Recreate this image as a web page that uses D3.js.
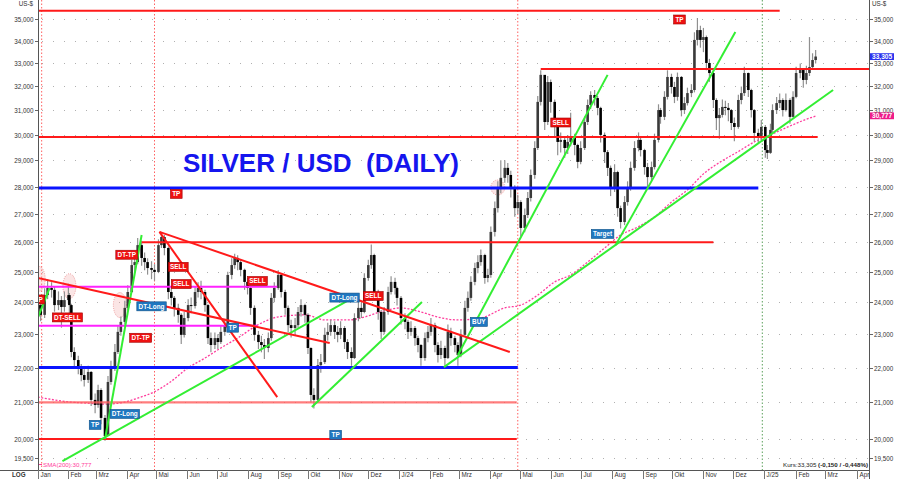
<!DOCTYPE html>
<html><head><meta charset="utf-8">
<script src="https://cdn.jsdelivr.net/npm/d3@7"></script>
<style>
html,body{margin:0;padding:0;background:#fff;}
svg{display:block;font-family:"Liberation Sans",Arial,sans-serif;}
</style></head><body>
<svg id="chart" width="900" height="479"></svg>
<script>
// ---------------- DATA ----------------
const dates = [
"2023-01-02","2023-01-04","2023-01-08","2023-01-11","2023-01-15","2023-01-18","2023-01-22","2023-01-25","2023-01-28","2023-02-01",
"2023-02-02","2023-02-04","2023-02-07","2023-02-11","2023-02-14","2023-02-17","2023-02-21","2023-02-24","2023-02-28","2023-03-03",
"2023-03-06","2023-03-10","2023-03-13","2023-03-16","2023-03-20","2023-03-23","2023-03-26","2023-03-30","2023-04-02","2023-04-06",
"2023-04-09","2023-04-12","2023-04-16","2023-04-19","2023-04-22","2023-04-26","2023-04-29","2023-05-03","2023-05-06","2023-05-09",
"2023-05-13","2023-05-16","2023-05-19","2023-05-23","2023-05-26","2023-05-29","2023-06-02","2023-06-05","2023-06-09","2023-06-12",
"2023-06-15","2023-06-19","2023-06-22","2023-06-25","2023-06-29","2023-07-02","2023-07-05","2023-07-09","2023-07-12","2023-07-16",
"2023-07-19","2023-07-22","2023-07-25","2023-07-29","2023-08-01","2023-08-04","2023-08-08","2023-08-12","2023-08-15","2023-08-18",
"2023-08-22","2023-08-25","2023-08-28","2023-09-01","2023-09-04","2023-09-08","2023-09-11","2023-09-14","2023-09-18","2023-09-21",
"2023-09-24","2023-09-28","2023-10-01","2023-10-04","2023-10-07","2023-10-11","2023-10-14","2023-10-18","2023-10-21","2023-10-24",
"2023-10-28","2023-10-31","2023-11-03","2023-11-07","2023-11-10","2023-11-14","2023-11-17","2023-11-21","2023-11-24","2023-11-27",
"2023-12-01","2023-12-04","2023-12-07","2023-12-11","2023-12-14","2023-12-17","2023-12-21","2023-12-24","2023-12-28","2023-12-30",
"2024-01-03","2024-01-07","2024-01-10","2024-01-13","2024-01-17","2024-01-20","2024-01-23","2024-01-27","2024-01-30","2024-02-02",
"2024-02-06","2024-02-09","2024-02-12","2024-02-16","2024-02-19","2024-02-22","2024-02-26","2024-02-29","2024-03-03","2024-03-07",
"2024-03-10","2024-03-13","2024-03-17","2024-03-20","2024-03-23","2024-03-27","2024-03-30","2024-04-02","2024-04-06","2024-04-09",
"2024-04-12","2024-04-16","2024-04-19","2024-04-22","2024-04-26","2024-04-29","2024-05-02","2024-05-06","2024-05-09","2024-05-12",
"2024-05-16","2024-05-19","2024-05-22","2024-05-26","2024-05-29","2024-06-01","2024-06-05","2024-06-08","2024-06-11","2024-06-15",
"2024-06-18","2024-06-21","2024-06-25","2024-06-28","2024-07-01","2024-07-05","2024-07-08","2024-07-11","2024-07-15","2024-07-18",
"2024-07-21","2024-07-25","2024-07-28","2024-07-31","2024-08-04","2024-08-07","2024-08-10","2024-08-14","2024-08-17","2024-08-20",
"2024-08-24","2024-08-28","2024-08-30","2024-09-03","2024-09-06","2024-09-10","2024-09-13","2024-09-17","2024-09-19","2024-09-23",
"2024-09-26","2024-09-30","2024-10-03","2024-10-06","2024-10-10","2024-10-13","2024-10-16","2024-10-20","2024-10-23","2024-10-26",
"2024-10-29","2024-11-01","2024-11-04","2024-11-07","2024-11-11","2024-11-14","2024-11-17","2024-11-20","2024-11-23","2024-11-26",
"2024-11-29","2024-12-02","2024-12-06","2024-12-09","2024-12-12","2024-12-16","2024-12-19","2024-12-22","2024-12-26","2024-12-29",
"2025-01-02","2025-01-04","2025-01-07","2025-01-09","2025-01-13","2025-01-16","2025-01-19","2025-01-22","2025-01-26","2025-01-29",
"2025-02-01","2025-02-05","2025-02-08","2025-02-11","2025-02-14","2025-02-17","2025-02-20"];
const firstOpen = 23.80;
const closes = [
23.91,23.60,24.23,24.46,24.40,23.91,24.07,23.85,24.07,24.23,
23.91,22.46,22.22,21.99,21.78,21.64,21.87,21.07,20.93,21.35,
20.57,20.08,21.58,21.99,22.46,23.07,23.38,23.82,24.33,25.22,
25.32,25.90,25.46,25.32,25.12,25.06,24.99,25.90,26.18,25.80,
24.33,24.14,23.82,23.60,22.98,23.50,23.91,23.88,24.33,24.46,
24.33,23.91,22.88,22.67,22.88,22.76,23.07,23.28,24.89,25.22,
25.46,25.32,25.06,24.66,24.46,23.82,22.98,22.76,22.67,22.58,
22.88,24.14,24.46,24.89,24.33,23.82,23.28,23.19,23.28,23.69,
23.91,23.60,22.58,21.21,21.07,22.07,22.16,22.98,23.07,23.28,
23.07,22.98,23.19,22.76,22.46,22.28,23.50,23.82,23.69,24.79,
25.22,25.56,24.33,23.69,23.07,23.69,24.33,24.66,24.46,24.14,
23.50,23.38,23.07,23.19,22.88,22.67,22.28,22.88,23.07,23.28,
22.67,22.37,22.58,22.28,23.07,22.88,22.67,22.37,22.98,23.82,
24.14,24.66,25.12,25.32,25.56,24.79,24.89,26.36,27.21,27.95,
28.33,28.71,28.44,27.95,27.21,27.43,26.50,26.96,27.58,28.44,
29.48,31.35,32.50,30.52,32.19,31.35,30.40,29.72,29.80,29.48,
29.72,29.88,29.60,28.94,29.48,30.52,31.22,31.64,31.51,31.10,
30.00,29.32,28.71,27.95,28.55,27.21,26.71,27.43,27.95,28.71,
29.48,29.80,29.40,28.74,28.36,28.74,29.80,31.01,30.73,31.56,
32.41,31.98,31.56,32.41,31.01,31.30,31.72,31.85,34.05,34.50,
34.05,34.18,33.02,32.58,31.43,30.68,30.81,31.14,31.10,31.01,
30.48,30.32,31.43,31.72,32.58,31.85,31.01,30.08,29.92,30.32,
29.40,29.29,30.20,31.01,31.30,31.43,31.01,31.43,30.73,31.56,
32.58,32.71,32.28,32.58,32.84,33.15,33.305];
const highs = [
24.20,24.10,24.45,24.75,24.65,24.50,24.35,24.20,24.35,24.60,
24.30,23.95,22.60,22.35,22.10,21.95,22.05,21.90,21.25,21.50,
21.40,20.65,21.75,22.20,22.70,23.25,23.55,24.05,24.55,25.40,
25.55,26.15,26.05,25.65,25.45,25.35,25.25,26.10,26.36,26.25,
25.85,24.50,24.20,23.95,23.65,23.70,24.10,24.15,24.50,24.65,
24.70,24.40,23.95,23.05,23.05,23.00,23.25,23.45,25.00,25.45,
25.60,25.55,25.40,25.10,24.80,24.50,23.90,23.10,22.95,22.85,
23.05,24.30,24.65,25.05,24.95,24.40,23.90,23.45,23.50,23.85,
24.10,23.95,23.65,22.60,21.40,22.25,22.40,23.20,23.35,23.45,
23.40,23.25,23.40,23.25,22.85,22.60,23.65,24.05,24.00,24.95,
25.40,25.92,25.60,24.40,23.75,23.85,24.50,24.85,24.80,24.50,
24.20,23.65,23.45,23.40,23.25,22.95,22.70,23.05,23.25,23.50,
23.35,22.75,22.80,22.65,23.30,23.20,22.95,22.75,23.15,24.05,
24.35,24.85,25.30,25.55,25.75,25.60,25.10,26.55,27.45,28.20,
29.00,29.00,28.90,28.60,28.05,27.70,27.50,27.20,27.80,28.65,
29.75,31.60,32.70,32.10,32.45,32.30,31.45,30.60,30.10,29.95,
30.00,30.90,30.05,29.65,29.75,30.75,31.45,31.80,31.85,31.60,
31.15,30.10,29.40,28.80,28.85,28.60,27.30,27.65,28.20,28.95,
29.75,30.10,29.90,29.45,28.90,28.95,30.05,31.25,31.10,31.80,
32.70,32.55,32.20,32.60,32.45,31.55,31.95,32.10,34.40,35.06,
34.70,34.60,34.25,33.20,32.70,31.50,31.10,31.45,31.40,31.30,
31.05,30.70,31.65,32.00,32.85,32.60,31.90,31.05,30.25,30.60,
30.40,29.60,30.45,31.25,31.55,31.70,31.50,31.70,31.50,31.80,
32.85,33.00,32.80,32.90,34.18,33.45,33.60];
const lows = [
23.55,23.40,23.50,24.10,24.15,23.70,23.75,23.20,23.70,23.95,
23.60,22.30,22.00,21.80,21.60,21.45,21.55,20.90,20.70,20.85,
20.40,19.95,20.10,21.50,21.90,22.40,22.95,23.30,23.75,24.30,
24.95,25.25,25.20,25.05,24.90,24.75,24.70,24.95,25.80,25.55,
24.10,23.90,23.55,23.35,22.70,22.90,23.40,23.65,23.80,24.15,
24.10,23.70,22.70,22.45,22.55,22.55,22.70,22.95,23.20,24.75,
25.10,25.05,24.85,24.40,24.25,23.60,22.80,22.55,22.45,22.25,
22.45,22.80,24.00,24.40,24.15,23.60,23.05,22.90,23.00,23.20,
23.55,23.35,22.40,21.00,20.83,21.00,21.85,22.10,22.80,22.95,
22.85,22.75,22.85,22.55,22.25,22.05,22.25,23.40,23.50,23.65,
24.70,25.10,24.10,23.45,22.85,23.00,23.60,24.25,24.25,23.90,
23.30,23.15,22.85,22.95,22.65,22.45,22.05,22.20,22.75,22.95,
22.45,22.15,22.25,22.05,22.25,22.65,22.45,22.05,22.30,22.95,
23.70,24.05,24.55,24.95,25.20,24.60,24.65,24.80,26.20,27.05,
27.75,28.15,28.15,27.60,26.90,27.00,26.20,26.35,26.85,27.45,
28.30,29.40,31.20,30.20,30.40,30.90,29.90,29.20,29.30,29.10,
29.25,29.55,29.20,28.70,28.85,29.40,30.40,31.05,31.20,30.80,
29.70,28.90,28.40,27.65,27.80,26.90,26.48,26.60,27.30,27.85,
28.60,29.35,29.15,28.45,28.00,28.20,28.65,29.70,30.45,30.60,
31.45,31.70,31.30,31.40,30.75,30.85,31.20,31.55,31.75,33.80,
33.70,33.50,32.70,32.20,31.10,30.20,29.85,30.70,30.80,30.55,
30.20,29.75,30.25,31.25,31.60,31.55,30.70,29.75,29.65,29.80,
29.10,29.05,29.25,30.10,30.85,31.10,30.75,30.95,30.45,30.70,
31.50,32.35,31.95,32.10,32.45,32.75,33.00];

// SMA(200)
const smaDates = ["2023-01-01","2023-01-18","2023-02-03","2023-02-20","2023-03-10","2023-03-30","2023-04-12","2023-04-29","2023-05-15","2023-06-02",
"2023-06-19","2023-07-05","2023-07-22","2023-08-11","2023-08-31","2023-09-28","2023-10-18","2023-11-10","2023-11-27","2023-12-13",
"2024-01-03","2024-01-23","2024-02-09","2024-02-29","2024-03-23","2024-04-16","2024-05-02","2024-05-19","2024-06-05","2024-06-21",
"2024-07-08","2024-07-25","2024-08-10","2024-08-27","2024-09-13","2024-09-29","2024-10-16","2024-11-02","2024-11-18","2024-12-05",
"2024-12-22","2025-01-07","2025-01-24","2025-02-09","2025-02-21"];
const smaValues = [21.15,21.07,21.01,20.98,20.95,21.01,21.12,21.30,21.58,21.99,
22.28,22.58,22.88,23.28,23.53,23.60,23.44,23.44,23.53,23.69,
23.82,23.69,23.53,23.44,23.50,23.82,23.91,24.23,24.66,24.89,
25.32,25.80,26.25,26.53,26.89,27.40,27.88,28.51,28.94,29.32,
29.72,30.00,30.32,30.60,30.777];

const yTicks = [19.5,20,21,22,23,24,25,26,27,28,29,30,31,32,33,34,35];
const monthNames = ["Jan","Feb","Mrz","Apr","Mai","Jun","Jul","Aug","Sep","Okt","Nov","Dez"];

// horizontal levels
const levelValues = [35.40,32.76,29.92,27.95,26.00,24.50,23.26,22.00,21.00,20.00];
const levelStarts = ["2023-01-01","2024-05-22","2023-01-01","2023-01-01","2023-04-16","2023-01-01","2023-01-01","2023-01-01","2023-01-01","2023-01-01"];
const levelEnds   = ["2025-01-16","2025-04-15","2025-02-22","2024-12-26","2024-11-11","2023-08-31","2023-08-11","2024-04-29","2024-04-28","2024-04-28"];
const levelKinds  = ["red","red","red","blue","red","magenta","magenta","blue","lightred","red"];

// trend lines
const trendStartDates = ["2023-01-26","2023-03-10","2023-01-01","2023-10-05","2024-02-15","2024-02-29","2024-08-05","2023-01-01","2023-05-04","2023-05-04"];
const trendStartVals  = [19.42,20.00,23.50,20.87,22.01,22.37,25.90,24.79,26.36,26.36];
const trendEndDates   = ["2023-11-17","2023-04-16","2023-01-13","2024-01-24","2025-03-09","2024-07-28","2024-12-03","2023-10-23","2024-04-21","2023-08-31"];
const trendEndVals    = [24.17,26.25,24.46,24.01,31.85,32.50,34.41,22.73,22.46,21.15];
const trendKinds      = ["green","green","green","green","green","green","green","red","red","red"];

// signal labels
const labelTexts  = ["TP","DT-SELL","DT-TP","SELL","SELL","DT-Long","DT-TP","TP","SELL","TP","DT-Long","TP","DT-Long","SELL","TP","BUY","SELL","Target","TP"];
const labelDates  = ["2023-01-02","2023-01-31","2023-04-01","2023-05-23","2023-05-26","2023-04-26","2023-04-15","2023-05-21","2023-08-11","2023-07-17","2023-03-30","2023-02-28","2023-11-07","2023-12-06","2023-10-29","2024-03-21","2024-06-11","2024-07-23","2024-10-08"];
const labelValues = [24.09,23.52,25.57,25.16,24.59,23.87,22.89,27.73,24.69,23.20,20.68,20.38,24.15,24.20,20.11,23.38,30.50,26.29,34.99];
const labelKinds  = ["red","red","red","red","red","blue","red","red","red","blue","blue","blue","blue","red","blue","blue","red","blue","red"];

// highlighted zones (ellipses)
const zoneDates  = ["2023-01-02","2023-02-02","2023-03-25","2024-04-09"];
const zoneValues = [24.76,24.52,23.91,27.97];

// vertical marker lines
const markerDates = ["2023-01-05","2023-04-29","2024-04-29","2024-12-30"];
const markerKinds = ["red","red","red","green"];

const lastPrice = 33.305, lastSMA = 30.777;

// ---------------- CHART ----------------
const W = 900, H = 479, L = 38, R = 869, T = 0, B = 470;
const parse = d3.utcParse("%Y-%m-%d");
const x = d3.scaleUtc()
  .domain(["2023-01-01","2024-01-01","2025-01-01","2025-04-01"].map(parse))
  .range([37.7, 399, 764.3, 856.7]);
const y = d3.scaleLog().domain([19.19, 35.912]).range([B, T]);
const fmt3 = v => d3.format(".3f")(v).replace(".", ",");

const svg = d3.select("#chart");
svg.append("rect").attr("width",W).attr("height",H).attr("fill","#fff");
svg.append("defs").append("clipPath").attr("id","plot")
  .append("rect").attr("x",L).attr("y",T).attr("width",R-L).attr("height",B-T);

const colors = {red:"#ff1a1a", blue:"#0a14ff", magenta:"#ff22ff", lightred:"#ff5c5c", green:"#33ee33"};

// grid
const grid = svg.append("g");
grid.selectAll("line").data(yTicks).join("line")
  .attr("x1",L+4).attr("x2",R).attr("y1",d=>Math.round(y(d))+0.5).attr("y2",d=>Math.round(y(d))+0.5)
  .attr("stroke","#b0b0b0").attr("stroke-width",1).attr("stroke-dasharray","1,10");

const plot = svg.append("g").attr("clip-path","url(#plot)");

// vertical markers
plot.selectAll("line.mk").data(markerDates).join("line").attr("class","mk")
  .attr("x1",d=>x(parse(d))).attr("x2",d=>x(parse(d))).attr("y1",T).attr("y2",B)
  .attr("stroke",(d,i)=>markerKinds[i]==="green"?"#5aa05a":"#ff6060")
  .attr("stroke-width",1).attr("stroke-dasharray","1.5,2");

// zones
plot.selectAll("ellipse").data(zoneDates).join("ellipse")
  .attr("cx",d=>x(parse(d))).attr("cy",(d,i)=>y(zoneValues[i]))
  .attr("rx",(d,i)=>i===3?7:6.5).attr("ry",(d,i)=>i===3?7.5:12.5)
  .attr("fill","rgba(240,160,160,0.28)").attr("stroke","#e88888").attr("stroke-width",0.8).attr("stroke-dasharray","1,1.2");

// SMA
const sma = smaDates.map((d,i)=>({d:parse(d), v:smaValues[i]}));
plot.append("path").datum(sma)
  .attr("d", d3.line().x(p=>x(p.d)).y(p=>y(p.v)).curve(d3.curveMonotoneX))
  .attr("fill","none").attr("stroke","#ff3c9c").attr("stroke-width",1.3).attr("stroke-dasharray","2,1.6");

// candles
const candles = dates.map((d,i)=>({d:parse(d), o: i===0?firstOpen:closes[i-1], c:closes[i], h:highs[i], l:lows[i]}));
const cg = plot.append("g");
cg.selectAll("line").data(candles).join("line")
  .attr("x1",p=>x(p.d)).attr("x2",p=>x(p.d)).attr("y1",p=>y(p.h)).attr("y2",p=>y(p.l))
  .attr("stroke","#909090").attr("stroke-width",1.2);
cg.selectAll("rect").data(candles).join("rect")
  .attr("x",p=>x(p.d)-1.3).attr("width",2.6)
  .attr("y",p=>y(Math.max(p.o,p.c))).attr("height",p=>Math.max(1,Math.abs(y(p.o)-y(p.c))))
  .attr("fill",p=>p.c>=p.o?"#3a3a3a":"#000");

// levels
plot.selectAll("line.lv").data(levelValues).join("line").attr("class","lv")
  .attr("x1",(d,i)=>Math.max(L,x(parse(levelStarts[i])))).attr("x2",(d,i)=>Math.min(R,x(parse(levelEnds[i]))))
  .attr("y1",d=>y(d)).attr("y2",d=>y(d))
  .attr("stroke",(d,i)=>colors[levelKinds[i]])
  .attr("stroke-width",(d,i)=>levelKinds[i]==="blue"?3:(levelKinds[i]==="lightred"?2.4:2))
  .attr("stroke-opacity",(d,i)=>levelKinds[i]==="lightred"?0.8:1);

// trend lines
plot.selectAll("line.tr").data(trendKinds).join("line").attr("class","tr")
  .attr("x1",(d,i)=>x(parse(trendStartDates[i]))).attr("y1",(d,i)=>y(trendStartVals[i]))
  .attr("x2",(d,i)=>x(parse(trendEndDates[i]))).attr("y2",(d,i)=>y(trendEndVals[i]))
  .attr("stroke",d=>colors[d]).attr("stroke-width",2);

// labels
const lg = plot.append("g");
labelTexts.forEach((t,i)=>{
  const cx = x(parse(labelDates[i])), cy = y(labelValues[i]);
  const g = lg.append("g");
  const r = g.append("rect");
  const tx = g.append("text").attr("x",cx).attr("y",cy+2.2).attr("text-anchor","middle")
    .attr("font-size","6.4px").attr("font-weight","bold").attr("fill","#fff").text(t);
  const w = Math.max(11.7, tx.node().getComputedTextLength()+3.5);
  r.attr("x",cx-w/2).attr("y",cy-4.5).attr("width",w).attr("height",9)
   .attr("fill",labelKinds[i]==="red"?"#ee1111":"#1f77c0")
   .attr("stroke",labelKinds[i]==="red"?"#a00000":"#0d4f86").attr("stroke-width",0.6);
});

// title
svg.append("text").attr("x",183).attr("y",172).attr("font-size","26px").attr("font-weight","bold")
  .attr("fill","#1515ee").style("white-space","pre").text("SILVER / USD  (DAILY)");

// axes frame
svg.append("line").attr("x1",L+0.5).attr("x2",L+0.5).attr("y1",0).attr("y2",B).attr("stroke","#555");
svg.append("line").attr("x1",R+0.5).attr("x2",R+0.5).attr("y1",0).attr("y2",H).attr("stroke","#555");
svg.append("line").attr("x1",0).attr("x2",R).attr("y1",B+0.5).attr("y2",B+0.5).attr("stroke","#555");

// y ticks (left + right)
const yl = svg.append("g").attr("font-size","6.3px").attr("fill","#333");
yTicks.forEach(v=>{
  const yy = Math.round(y(v))+0.5;
  svg.append("line").attr("x1",L-3).attr("x2",L).attr("y1",yy).attr("y2",yy).attr("stroke","#666");
  svg.append("line").attr("x1",R+1).attr("x2",R+4).attr("y1",yy).attr("y2",yy).attr("stroke","#666");
  yl.append("text").attr("x",L-4.5).attr("y",yy+2.2).attr("text-anchor","end").text(fmt3(v));
  yl.append("text").attr("x",R+5).attr("y",yy+2.2).text(fmt3(v));
});
svg.append("text").attr("x",33).attr("y",6).attr("text-anchor","end").attr("font-size","6.3px").attr("fill","#333").text("US-$");
svg.append("text").attr("x",872).attr("y",6).attr("font-size","6.3px").attr("fill","#333").text("US-$");

// x axis months
const months = d3.utcMonths(parse("2023-01-01"), parse("2025-04-02"));
const xa = svg.append("g").attr("font-size","6.3px").attr("fill","#333");
months.forEach(m=>{
  const xx = Math.round(x(m))+0.5;
  xa.append("line").attr("x1",xx).attr("x2",xx).attr("y1",B).attr("y2",H).attr("stroke","#777");
  const mi = m.getUTCMonth();
  const lab = (mi===0 && m.getUTCFullYear()>2023) ? "J/"+String(m.getUTCFullYear()).slice(2) : monthNames[mi];
  xa.append("text").attr("x",xx+2).attr("y",477).text(lab);
});
svg.append("text").attr("x",12).attr("y",477).attr("font-size","6.3px").attr("font-weight","bold").attr("fill","#333").text("LOG");

// right value boxes
function valueBox(v, fill){
  const yy = y(v);
  svg.append("rect").attr("x",R+1).attr("y",yy-3.3).attr("width",24).attr("height",6.8).attr("fill",fill);
  svg.append("text").attr("x",R+3).attr("y",yy+2.3).attr("font-size","6.6px").attr("font-weight","bold").attr("fill","#fff").text(fmt3(v));
}
valueBox(lastPrice, "#2a33ee");
valueBox(lastSMA, "#ee1c8a");

// bottom notes
svg.append("line").attr("x1",39).attr("x2",42).attr("y1",464.5).attr("y2",464.5).attr("stroke","#ff3c9c").attr("stroke-width",1);
svg.append("text").attr("x",43).attr("y",466.5).attr("font-size","6.2px").attr("fill","#ff3c9c").text("SMA(200):"+fmt3(lastSMA));
const kt = svg.append("text").attr("x",783).attr("y",466.5).attr("font-size","6.2px").attr("fill","#222");
kt.append("tspan").text("Kurs:"+fmt3(lastPrice)+" ");
kt.append("tspan").attr("font-weight","bold").text("(-0,150 / -0,448%)");
</script>
</body></html>
